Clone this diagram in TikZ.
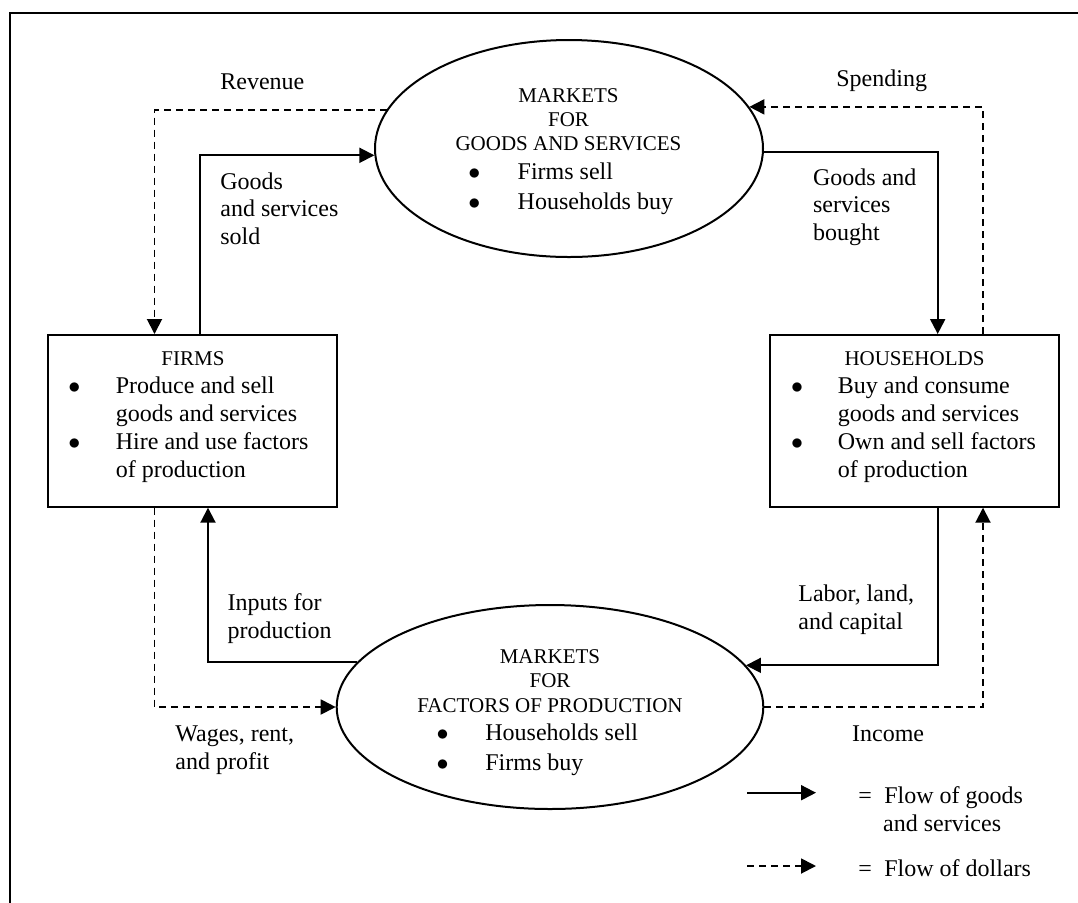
\documentclass[tikz,border=0pt]{standalone}
\usepackage{fontspec}
\setmainfont{Liberation Serif}
\usetikzlibrary{arrows.meta,shapes.geometric}
\newcommand\lines[1]{\begin{tabular}[t]{@{}l@{}}#1\end{tabular}}
\newcommand\clines[1]{\begin{tabular}[t]{@{}c@{}}#1\end{tabular}}
\newcommand\bult[1]{\llap{\makebox[0pt][c]{$\bullet$}\hspace{#1}}}
\begin{document}
\begin{tikzpicture}[x=0.5pt,y=-0.5pt,
  lbl/.style={font=\fontsize{12}{13.75}\selectfont, inner sep=0pt, anchor=base west},
  bodytext/.style={font=\fontsize{12}{14}\selectfont, inner sep=0pt, anchor=base west},
  bultext/.style={font=\fontsize{12}{15}\selectfont, inner sep=0pt, anchor=base west},
  head/.style={font=\fontsize{10.5}{12.2}\selectfont, inner sep=0pt, anchor=base},
  agentbox/.style={draw, line width=1pt, rectangle, minimum width=144.65pt, minimum height=85.85pt, inner sep=0pt},
  mkt/.style={draw, line width=1pt, ellipse, inner sep=0pt},
  goods/.style={line width=1pt, -{Triangle[length=7.5pt,width=7.5pt]}},
  money/.style={line width=0.95pt, dash pattern=on 3.5pt off 2.5pt, -{Triangle[length=7.5pt,width=7.5pt]}},
]
\useasboundingbox (0,0) rectangle (1078,902);
\clip (0,0) rectangle (1078,902);
\fill[white] (0,0) rectangle (1078,902);
\draw[line width=1.3pt] (10,13) rectangle (1110,940);

% main shapes
\node[mkt, minimum width=194pt, minimum height=108.5pt] (gm) at (569,148.5) {};
\node[mkt, minimum width=213.3pt, minimum height=102pt] (fm) at (550,707) {};
\node[agentbox] (firms) at (192.65,420.85) {};
\node[agentbox] (hh) at (914.65,420.85) {};

% texts inside
\node[head] (gmh) at (568.5,102) {\clines{MARKETS\\FOR\\GOODS AND SERVICES}};
\node[bultext] (gmb) at (517.3,179.3) {\lines{\bult{21.65pt}Firms sell\\\bult{21.65pt}Households buy}};
\node[head] (fmh) at (550,663.3) {\clines{MARKETS\\FOR\\FACTORS OF PRODUCTION}};
\node[bultext] (fmb) at (485,740) {\lines{\bult{21.35pt}Households sell\\\bult{21.35pt}Firms buy}};
\node[head] (firmsh) at (193,365) {FIRMS};
\node[bodytext] (firmsb) at (115.5,393) {\lines{\bult{20.75pt}Produce and sell\\goods and services\\\bult{20.75pt}Hire and use factors\\of production}};
\node[head] (hhh) at (914.5,365) {HOUSEHOLDS};
\node[bodytext] (hhb) at (837.5,393) {\lines{\bult{20.4pt}Buy and consume\\goods and services\\\bult{20.4pt}Own and sell factors\\of production}};

% connector x positions
\coordinate (xrev) at (154.5,0);
\coordinate (xgs) at (200,0);
\coordinate (xin) at (208,0);
\coordinate (xgb) at (937.7,0);
\coordinate (xsp) at (983,0);

% connectors
\draw[money] (gm.168.4) -| (firms.north -| xrev);
\draw[goods] (firms.north -| xgs) |- (gm.182.8);
\draw[goods] (gm.-1.3) -| (hh.north -| xgb);
\draw[money] (hh.north -| xsp) |- (gm.13.4);
\draw[goods] (hh.south -| xgb) |- (fm.12.8);
\draw[money] (fm.-0.5) -| (hh.south -| xsp);
\draw[goods] (fm.167.2) -| (firms.south -| xin);
\draw[money] (firms.south -| xrev) |- (fm.180.5);

% labels
\node[lbl] (lrev) at (220,89.3) {Revenue};
\node[lbl] (lgs) at (220,189.3) {\lines{Goods\\and services\\sold}};
\node[lbl] (lsp) at (836,86) {Spending};
\node[lbl] (lgb) at (812.7,185) {\lines{Goods and\\services\\bought}};
\node[lbl] (lin) at (227.3,610.7) {\lines{Inputs for\\production}};
\node[lbl] (llab) at (798,601.7) {\lines{Labor, land,\\and capital}};
\node[lbl] (lwg) at (175,741.7) {\lines{Wages, rent,\\and profit}};
\node[lbl] (linc) at (851.7,741.7) {Income};

% legend
\coordinate (lga) at (747,792.7);
\coordinate (lgb) at (816,792.7);
\coordinate (lgc) at (747,866);
\coordinate (lgd) at (816,866);
\draw[goods] (lga) -- (lgb);
\draw[money] (lgc) -- (lgd);
\node[lbl, font=\fontsize{12}{14.2}\selectfont] (leg1) at (858,803.3) {\lines{\makebox[13pt][l]{=}Flow of goods\\\hspace{12.4pt}and services}};
\node[lbl] (leg2) at (858,876) {\makebox[13pt][l]{=}Flow of dollars};
\end{tikzpicture}
\end{document}
